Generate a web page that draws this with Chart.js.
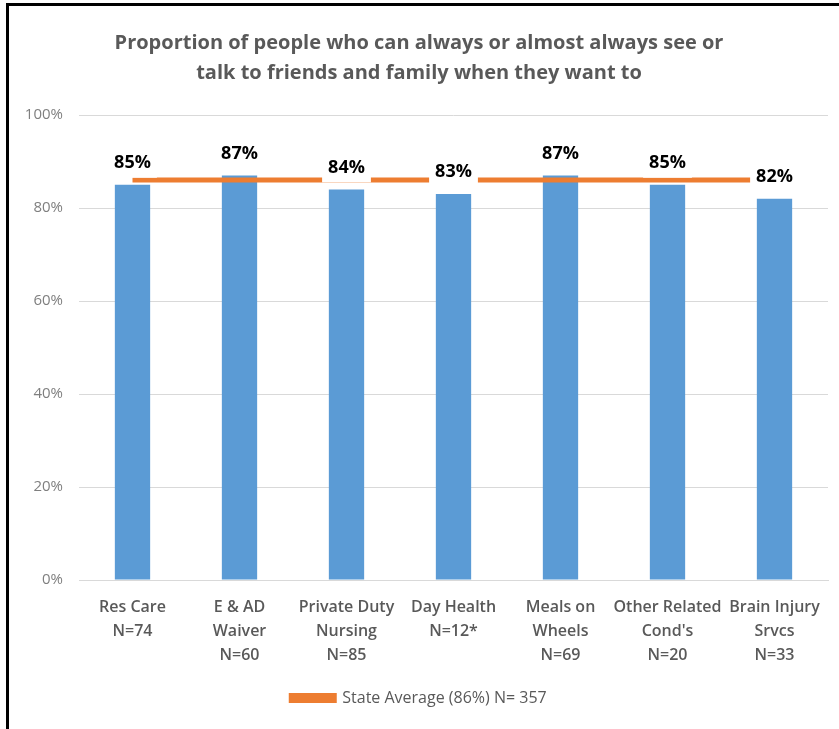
<!DOCTYPE html>
<html>
<head>
<meta charset="utf-8">
<script src="https://cdn.jsdelivr.net/npm/chart.js@4/dist/chart.umd.min.js"></script>
<style>
  html, body { margin: 0; padding: 0; background: #fff; }
  #wrap { position: relative; width: 839px; height: 729px; }
  #frame {
    position: absolute; left: 6px; top: 3px; right: -5px; bottom: -5px;
    border-top: 3px solid #000; border-left: 3px solid #000;
    pointer-events: none;
  }
</style>
</head>
<body>
<div id="wrap">
  <canvas id="chart" width="839" height="729"></canvas>
  <div id="frame"></div>
</div>
<script>
// ===== Data =====
const programs = [
  ["Res Care", "N=74"],
  ["E & AD", "Waiver", "N=60"],
  ["Private Duty", "Nursing", "N=85"],
  ["Day Health", "N=12*"],
  ["Meals on", "Wheels", "N=69"],
  ["Other Related", "Cond's", "N=20"],
  ["Brain Injury", "Srvcs", "N=33"]
];
const pctSeeFriends = [85, 87, 84, 83, 87, 85, 82];
const stateAverage = [86, 86, 86, 86, 86, 86, 86];
const stateLabel = "State Average (86%) N= 357";
const yTicks = [0, 20, 40, 60, 80, 100];

const FONT = "'Open Sans', 'Noto Sans', sans-serif";

// value labels with white box, drawn over the average line
const barLabels = {
  id: "barLabels",
  afterDatasetsDraw(chart) {
    const ctx = chart.ctx;
    const meta = chart.getDatasetMeta(1);
    ctx.save();
    ctx.font = "bold 18px " + FONT;
    ctx.textAlign = "center";
    ctx.textBaseline = "middle";
    meta.data.forEach((bar, i) => {
      const txt = pctSeeFriends[i] + "%";
      const w = ctx.measureText(txt).width;
      const cy = bar.y - 22;
      ctx.fillStyle = "#fff";
      ctx.fillRect(bar.x - w / 2 - 6, cy - 11, w + 12, 26);
      ctx.fillStyle = "#000";
      ctx.fillText(txt, bar.x, cy);
    });
    ctx.restore();
  }
};

new Chart(document.getElementById("chart"), {
  data: {
    labels: programs,
    datasets: [
      {
        type: "line",
        label: stateLabel,
        data: stateAverage,
        borderColor: "#ED7D31",
        backgroundColor: "#ED7D31",
        borderWidth: 5,
        pointRadius: 0,
        order: 1
      },
      {
        type: "bar",
        label: "Proportion",
        data: pctSeeFriends,
        backgroundColor: "#5B9BD5",
        categoryPercentage: 1,
        barPercentage: 0.33,
        order: 2
      }
    ]
  },
  options: {
    responsive: false,
    animation: false,
    layout: { padding: { left: 10, right: 11, top: 0, bottom: 13 } },
    plugins: {
      tooltip: { enabled: false },
      title: {
        display: true,
        text: [
          "Proportion of people who can always or almost always see or",
          "talk to friends and family when they want to"
        ],
        color: "#595959",
        font: { family: FONT, size: 20, weight: "bold", lineHeight: 1.5 },
        padding: { top: 28, bottom: 27 }
      },
      legend: {
        position: "bottom",
        labels: {
          filter: item => item.datasetIndex === 0,
          color: "#595959",
          font: { family: FONT, size: 16 },
          boxWidth: 43,
          boxHeight: 5,
          padding: 10
        }
      }
    },
    scales: {
      x: {
        grid: { display: false },
        border: { display: true, color: "#d9d9d9" },
        ticks: {
          color: "#595959",
          font: { family: FONT, size: 16, weight: 600, lineHeight: 1.5 },
          padding: 7,
          maxRotation: 0,
          autoSkip: false
        },
        afterFit(scale) { scale.height = 100; }
      },
      y: {
        min: 0,
        max: 100,
        afterBuildTicks(scale) { scale.ticks = yTicks.map(v => ({ value: v })); },
        grid: { color: "#d9d9d9", drawTicks: false },
        border: { display: false },
        ticks: {
          color: "#7f7f7f",
          font: { family: FONT, size: 15 },
          padding: 16,
          callback: v => v + "%"
        },
        afterFit(scale) { scale.width = 69; }
      }
    }
  },
  plugins: [barLabels]
});
</script>
</body>
</html>
